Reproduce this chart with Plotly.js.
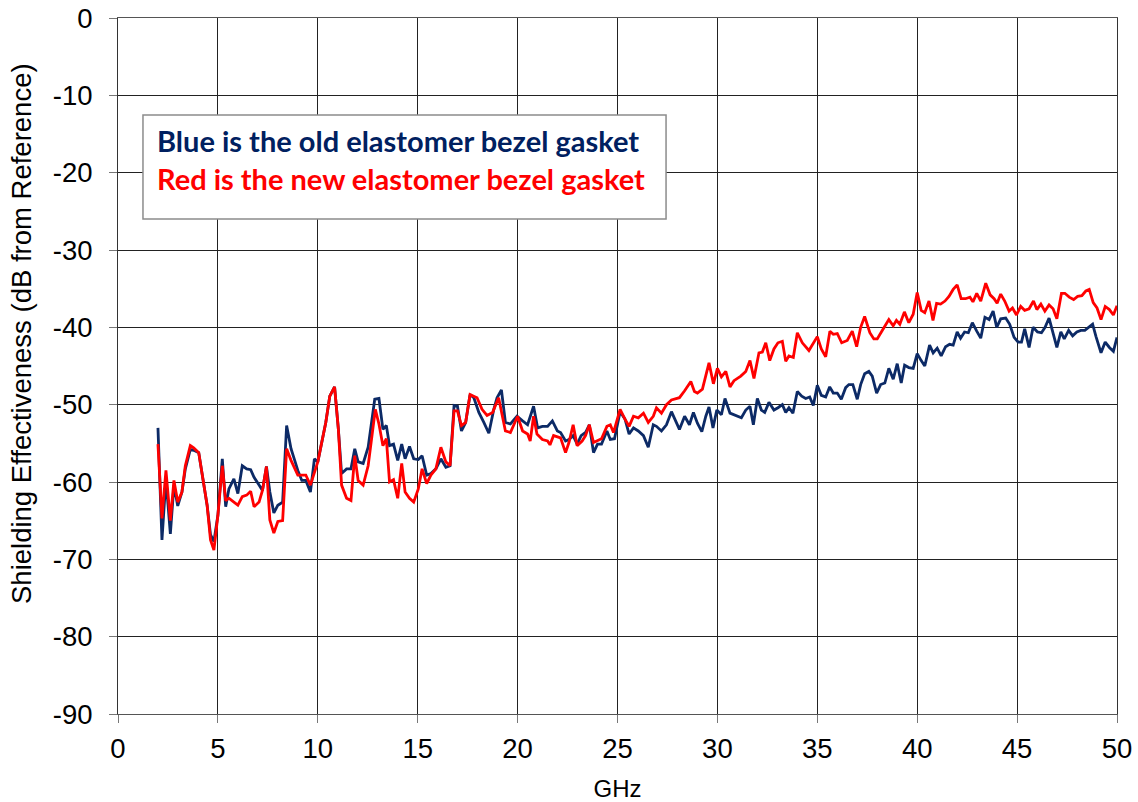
<!DOCTYPE html>
<html>
<head>
<meta charset="utf-8">
<script src="https://cdn.plot.ly/plotly-3.0.1.min.js"></script>
<style>html,body{margin:0;padding:0;background:#fff}#chart{width:1138px;height:802px}</style>
</head>
<body>
<div id="chart"></div>
<script>
const blueX = [2.0,2.2,2.4,2.62,2.8,2.99,3.2,3.37,3.62,3.79,4.04,4.3,4.46,4.63,4.8,5.0,5.22,5.39,5.55,5.8,6.0,6.22,6.44,6.64,6.81,7.06,7.23,7.43,7.6,7.8,8.0,8.24,8.44,8.66,9.0,9.2,9.4,9.63,9.83,10.0,10.4,10.6,10.84,11.03,11.19,11.44,11.66,11.85,12.02,12.27,12.52,12.85,13.06,13.26,13.43,13.59,13.79,14.0,14.2,14.37,14.59,14.8,15.03,15.22,15.45,15.66,15.91,16.16,16.41,16.62,16.82,16.99,17.19,17.4,17.62,17.81,18.06,18.31,18.56,18.81,18.97,19.19,19.39,19.64,19.97,20.25,20.5,20.8,21.0,21.24,21.5,21.74,21.99,22.15,22.4,22.57,22.78,22.98,23.18,23.4,23.59,23.8,24.0,24.2,24.47,24.64,24.85,25.13,25.38,25.58,25.8,26.04,26.3,26.54,26.79,26.95,27.2,27.45,27.7,28.1,28.36,28.6,28.8,29.0,29.22,29.42,29.58,29.78,29.97,30.2,30.38,30.63,30.92,31.2,31.42,31.63,31.8,32.0,32.2,32.37,32.58,32.83,33.03,33.25,33.42,33.58,33.78,34.0,34.22,34.42,34.62,34.8,35.0,35.2,35.42,35.62,35.8,36.0,36.2,36.42,36.58,36.78,37.0,37.17,37.37,37.58,37.75,37.97,38.17,38.38,38.58,38.8,39.0,39.2,39.37,39.58,39.8,40.0,40.2,40.38,40.62,40.8,41.0,41.2,41.42,41.62,41.8,42.0,42.17,42.37,42.56,42.76,42.98,43.18,43.39,43.6,43.8,43.98,44.18,44.43,44.63,44.85,45.05,45.22,45.38,45.6,45.8,46.02,46.22,46.4,46.6,46.8,46.99,47.19,47.36,47.58,47.78,47.99,48.19,48.39,48.61,48.78,48.95,49.2,49.41,49.62,49.82,50.0];
const blueY = [-53.0,-67.5,-59.6,-66.7,-60.4,-63.1,-61.3,-58.3,-55.8,-55.9,-56.2,-60.4,-63.0,-66.8,-67.7,-64.3,-57.0,-63.2,-60.9,-59.6,-61.5,-57.9,-58.3,-58.4,-59.4,-60.4,-61.1,-58.0,-61.3,-64.0,-63.0,-62.6,-52.7,-55.7,-58.5,-59.8,-59.8,-61.3,-57.0,-57.4,-52.3,-48.9,-47.7,-53.2,-58.9,-58.3,-58.3,-55.7,-57.4,-57.6,-55.5,-49.3,-49.2,-53.2,-52.7,-55.3,-55.1,-57.2,-55.1,-57.0,-55.4,-57.0,-57.1,-56.6,-59.1,-58.9,-58.3,-57.0,-58.1,-57.9,-50.1,-50.2,-53.4,-52.3,-48.7,-49.1,-51.0,-52.3,-53.7,-50.6,-49.1,-48.1,-52.3,-52.5,-51.5,-52.1,-52.6,-50.2,-53.0,-52.8,-52.8,-52.1,-53.4,-53.6,-54.7,-54.5,-54.0,-55.1,-54.0,-53.6,-52.6,-56.2,-55.1,-55.1,-53.4,-54.5,-54.4,-50.9,-51.9,-53.8,-53.0,-53.4,-54.0,-55.5,-52.6,-52.8,-53.4,-52.6,-50.9,-53.2,-51.5,-52.6,-51.0,-52.4,-53.5,-51.5,-50.3,-53.0,-50.7,-51.3,-49.2,-51.1,-51.4,-51.7,-50.7,-50.2,-52.6,-49.2,-50.7,-51.0,-49.7,-50.7,-50.4,-50.0,-51.0,-50.4,-51.1,-48.3,-48.9,-49.2,-49.0,-50.1,-47.5,-48.8,-49.0,-47.7,-48.5,-48.5,-49.3,-47.8,-47.4,-47.4,-49.3,-47.4,-46.0,-45.7,-46.3,-48.5,-47.4,-47.2,-45.3,-46.7,-44.7,-47.2,-44.9,-45.2,-45.3,-43.4,-44.3,-45.0,-42.3,-43.3,-42.7,-43.7,-42.5,-42.2,-42.3,-40.6,-41.4,-40.6,-40.7,-39.4,-40.5,-41.4,-38.7,-39.0,-37.9,-40.0,-38.9,-38.8,-39.6,-41.3,-41.9,-41.9,-40.2,-42.6,-40.0,-40.6,-40.7,-40.0,-38.8,-40.6,-42.6,-40.6,-41.5,-40.4,-41.1,-40.6,-40.4,-40.4,-40.0,-39.6,-41.2,-43.3,-41.9,-42.6,-43.1,-41.3];

const redX = [2.0,2.2,2.4,2.62,2.8,2.99,3.2,3.37,3.62,3.79,4.04,4.3,4.46,4.63,4.8,5.0,5.22,5.39,5.55,5.8,6.0,6.22,6.44,6.64,6.81,7.06,7.23,7.43,7.6,7.8,8.0,8.24,8.44,8.66,9.0,9.2,9.4,9.63,9.83,10.0,10.4,10.6,10.84,11.03,11.19,11.44,11.66,11.85,12.02,12.27,12.52,12.88,13.06,13.26,13.43,13.59,13.79,14.0,14.2,14.37,14.59,14.8,15.03,15.22,15.45,15.66,15.91,16.16,16.41,16.62,16.82,16.99,17.19,17.4,17.62,17.97,18.22,18.47,18.75,19.05,19.39,19.64,20.0,20.25,20.5,20.63,20.8,20.97,21.24,21.5,21.62,21.8,22.15,22.4,22.57,22.78,22.98,23.23,23.4,23.59,23.8,24.0,24.2,24.47,24.64,24.8,25.13,25.38,25.58,25.8,26.04,26.3,26.54,26.79,26.95,27.2,27.45,27.7,28.1,28.36,28.67,28.85,29.0,29.25,29.58,29.8,30.0,30.2,30.42,30.63,30.83,31.17,31.42,31.63,31.83,32.08,32.25,32.42,32.62,32.83,33.03,33.25,33.42,33.58,33.8,34.0,34.25,34.58,35.0,35.2,35.42,35.63,35.8,36.0,36.22,36.5,36.75,36.97,37.17,37.37,37.63,37.83,38.0,38.25,38.58,38.8,38.96,39.13,39.36,39.58,39.8,40.0,40.2,40.38,40.59,40.79,40.97,41.17,41.39,41.59,41.8,42.0,42.2,42.42,42.64,42.79,42.98,43.18,43.43,43.65,43.85,44.0,44.18,44.38,44.6,44.77,44.97,45.18,45.38,45.6,45.82,45.99,46.19,46.39,46.6,46.8,46.99,47.22,47.39,47.61,47.83,48.03,48.24,48.44,48.61,48.81,49.0,49.2,49.41,49.62,49.82,50.0];
const redY = [-55.1,-64.7,-58.5,-65.0,-59.8,-62.6,-61.3,-57.9,-55.3,-55.6,-56.2,-60.4,-63.0,-67.5,-68.8,-64.3,-57.9,-62.4,-62.1,-62.6,-63.0,-61.9,-61.7,-61.2,-63.2,-62.6,-61.1,-58.0,-64.9,-66.6,-65.1,-65.0,-55.7,-57.2,-59.1,-59.1,-59.1,-60.4,-58.7,-57.4,-52.3,-48.9,-47.7,-53.2,-60.4,-62.1,-62.4,-56.6,-59.8,-60.4,-57.9,-50.6,-52.5,-55.3,-54.4,-60.0,-59.7,-62.1,-57.6,-61.3,-62.1,-62.6,-60.9,-58.3,-60.2,-59.1,-58.3,-55.5,-57.4,-57.9,-50.8,-50.8,-52.7,-52.3,-48.7,-49.1,-50.6,-51.4,-51.0,-49.1,-53.4,-53.6,-51.5,-53.4,-53.8,-54.7,-51.5,-53.8,-54.5,-54.7,-55.2,-54.0,-54.3,-56.2,-54.9,-52.6,-55.3,-54.7,-54.0,-52.6,-54.9,-54.7,-54.4,-52.8,-52.6,-53.6,-50.6,-51.9,-52.8,-51.5,-51.7,-51.1,-52.3,-51.5,-50.4,-51.1,-50.0,-49.4,-49.1,-48.2,-47.0,-48.3,-48.5,-48.0,-44.6,-47.3,-45.3,-46.4,-45.7,-47.7,-46.9,-46.3,-45.7,-44.3,-46.6,-43.3,-43.2,-42.0,-44.3,-42.8,-42.0,-41.8,-44.4,-43.7,-43.9,-40.7,-42.0,-43.0,-41.2,-42.8,-43.8,-40.5,-40.9,-40.8,-42.0,-41.7,-40.5,-42.5,-40.0,-38.6,-40.7,-41.5,-41.5,-40.4,-39.0,-39.8,-39.1,-39.6,-38.0,-39.4,-38.3,-35.5,-37.8,-38.1,-36.6,-39.1,-36.9,-37.0,-36.6,-36.0,-35.1,-34.5,-36.3,-36.3,-36.1,-36.7,-35.6,-36.6,-34.3,-35.8,-36.3,-36.9,-35.7,-36.6,-37.9,-37.5,-38.4,-37.3,-37.8,-37.6,-36.6,-37.7,-37.0,-37.9,-37.1,-37.6,-38.9,-35.6,-35.6,-36.1,-36.4,-36.0,-35.9,-35.3,-35.1,-36.8,-37.5,-39.0,-37.3,-37.7,-38.4,-37.2];

const xTicks = [0,5,10,15,20,25,30,35,40,45,50];
const yTicks = [0,-10,-20,-30,-40,-50,-60,-70,-80,-90];
const noteLines = ["Blue is the old elastomer bezel gasket", "Red is the new elastomer bezel gasket"];
const xTitle = "GHz";
const yTitle = "Shielding Effectiveness (dB from Reference)";

const blue = '#0c2a66';
const red = '#ff0000';

const traces = [
  {x: blueX, y: blueY, type: 'scatter', mode: 'lines', line: {color: blue, width: 2.8}, hoverinfo: 'x+y'},
  {x: redX, y: redY, type: 'scatter', mode: 'lines', line: {color: red, width: 2.8}, hoverinfo: 'x+y'}
];

const fam = 'Liberation Sans, Arial, sans-serif';
const axFont = {family: fam, size: 27.5, color: '#000'};
const layout = {
  width: 1138, height: 802,
  margin: {l: 118, r: 21, t: 18, b: 88, pad: 0},
  paper_bgcolor: '#fff', plot_bgcolor: '#fff',
  showlegend: false,
  xaxis: {
    range: [0, 50], tickvals: xTicks, ticktext: xTicks.map(String),
    showgrid: true, gridcolor: '#222', gridwidth: 1,
    showline: true, linecolor: '#555', linewidth: 1, mirror: true,
    ticks: 'outside', ticklen: 8, tickcolor: '#777', tickwidth: 1,
    zeroline: false, tickfont: axFont, ticklabelstandoff: 2,
    title: {text: xTitle, font: {family: fam, size: 24, color: '#000'}, standoff: 20}
  },
  yaxis: {
    range: [-90, 0], tickvals: yTicks, ticktext: yTicks.map(String),
    showgrid: true, gridcolor: '#222', gridwidth: 1,
    showline: true, linecolor: '#333', linewidth: 1, mirror: true,
    ticks: 'outside', ticklen: 8, tickcolor: '#777', tickwidth: 1,
    zeroline: false, tickfont: axFont, ticklabelstandoff: 11
  },
  shapes: [{
    type: 'rect', xref: 'x', yref: 'y', x0: 1.25, x1: 27.43, y0: -12.54, y1: -26.0,
    line: {color: '#8c8c8c', width: 1.5}, fillcolor: '#fff', layer: 'above'
  }],
  annotations: [
    {xref: 'paper', yref: 'paper', x: -0.0971, y: 0.5474, xanchor: 'center', yanchor: 'middle', showarrow: false,
     textangle: -90, text: yTitle, font: {family: fam, size: 27.5, color: '#000'}},
    {xref: 'x', yref: 'y', x: 1.85, y: -15.85, xanchor: 'left', yanchor: 'middle', showarrow: false,
     text: '<b>' + noteLines[0] + '</b>', font: {family: 'Lato, Carlito, Calibri, sans-serif', size: 29, color: '#002060'}},
    {xref: 'x', yref: 'y', x: 1.85, y: -20.75, xanchor: 'left', yanchor: 'middle', showarrow: false,
     text: '<b>' + noteLines[1] + '</b>', font: {family: 'Lato, Carlito, Calibri, sans-serif', size: 29, color: '#ff0000'}}
  ]
};

Plotly.newPlot('chart', traces, layout, {displayModeBar: false, staticPlot: true});
</script>
</body>
</html>
